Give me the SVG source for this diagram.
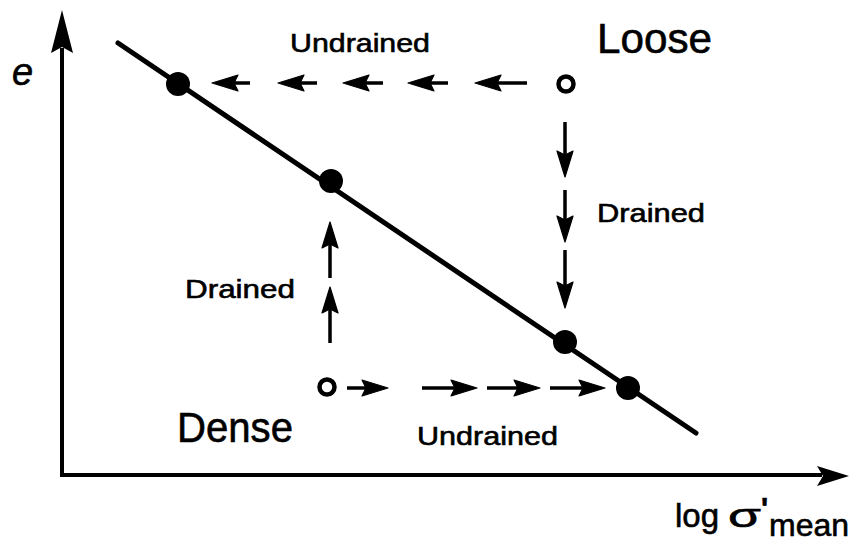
<svg xmlns="http://www.w3.org/2000/svg" width="851" height="553" viewBox="0 0 851 553">
  <style>
    .lbl { font-family: "Liberation Sans", Arial, sans-serif; fill: #000; stroke: #000; stroke-width: 0.6; }
    .axis { stroke: #000; stroke-width: 4; fill: none; }
    .trend { stroke: #000; stroke-width: 5; fill: none; stroke-linecap: round; }
    .shaft { stroke: #000; stroke-width: 3.5; fill: none; }
    .dot { fill: #000; }
    .open { fill: #fff; stroke: #000; stroke-width: 4.5; }
  </style>
  <defs>
    <polygon id="head" points="0,0 -26,-8 -22,0 -26,8" fill="#000" stroke="#000" stroke-width="1.2" stroke-linejoin="round"/>
  </defs>
  <rect width="851" height="553" fill="#fff"/>

  <g id="axes">
    <path class="axis" d="M62,48 L62,475 L822,475"/>
    <polygon points="62,10 51,53 62,47 73,53" fill="#000"/>
    <polygon points="849,476 817,466 823,476 817,486" fill="#000"/>
    <text class="lbl" x="12" y="85" font-size="38" font-style="italic">e</text>
    <text class="lbl" x="675" y="527" font-size="33">log</text>
    <text class="lbl" x="728" y="527" font-size="34" textLength="33" lengthAdjust="spacingAndGlyphs">σ</text>
    <text class="lbl" x="761" y="518" font-size="30" font-weight="bold">'</text>
    <text class="lbl" x="769" y="536" font-size="32">mean</text>
  </g>

  <g id="trend-line">
    <path class="trend" d="M118,43 L696,433"/>
  </g>

  <g id="connectors">
    <g id="undrained-loose">
      <path class="shaft" d="M250,83 H230 M317,83 H296 M383,83 H361 M448,83 H426 M527,83 H493"/>
      <use href="#head" transform="translate(212,83) rotate(180)"/>
      <use href="#head" transform="translate(278,83) rotate(180)"/>
      <use href="#head" transform="translate(343,83) rotate(180)"/>
      <use href="#head" transform="translate(408,83) rotate(180)"/>
      <use href="#head" transform="translate(475,83) rotate(180)"/>
    </g>
    <g id="drained-loose">
      <path class="shaft" d="M565,122 V159 M565,190 V224 M565,250 V290"/>
      <use href="#head" transform="translate(565,177) rotate(90)"/>
      <use href="#head" transform="translate(565,242) rotate(90)"/>
      <use href="#head" transform="translate(565,308) rotate(90)"/>
    </g>
    <g id="drained-dense">
      <path class="shaft" d="M330,278 V240 M330,343 V305"/>
      <use href="#head" transform="translate(330,222) rotate(-90)"/>
      <use href="#head" transform="translate(330,287) rotate(-90)"/>
    </g>
    <g id="undrained-dense">
      <path class="shaft" d="M347,388 H370 M422,388 H459 M487,388 H522 M550,388 H587"/>
      <use href="#head" transform="translate(388,388)"/>
      <use href="#head" transform="translate(477,388)"/>
      <use href="#head" transform="translate(540,388)"/>
      <use href="#head" transform="translate(605,388)"/>
    </g>
  </g>

  <g id="loose">
    <circle class="open" cx="566" cy="84" r="7.5"/>
    <text class="lbl" x="597" y="53" font-size="42" textLength="115" lengthAdjust="spacingAndGlyphs">Loose</text>
  </g>
  <g id="dense">
    <circle class="open" cx="327" cy="387" r="7.5"/>
    <text class="lbl" x="177" y="442" font-size="42" textLength="116" lengthAdjust="spacingAndGlyphs">Dense</text>
  </g>

  <g id="state-points">
    <circle class="dot" cx="178" cy="84" r="12"/>
    <circle class="dot" cx="331" cy="181" r="12"/>
    <circle class="dot" cx="565" cy="342" r="12"/>
    <circle class="dot" cx="628" cy="388" r="12"/>
  </g>

  <g id="labels">
    <text class="lbl" x="290" y="52" font-size="26" textLength="140" lengthAdjust="spacingAndGlyphs">Undrained</text>
    <text class="lbl" x="597" y="222" font-size="26" textLength="108" lengthAdjust="spacingAndGlyphs">Drained</text>
    <text class="lbl" x="185" y="298" font-size="26" textLength="110" lengthAdjust="spacingAndGlyphs">Drained</text>
    <text class="lbl" x="417" y="445" font-size="26" textLength="141" lengthAdjust="spacingAndGlyphs">Undrained</text>
  </g>
</svg>
